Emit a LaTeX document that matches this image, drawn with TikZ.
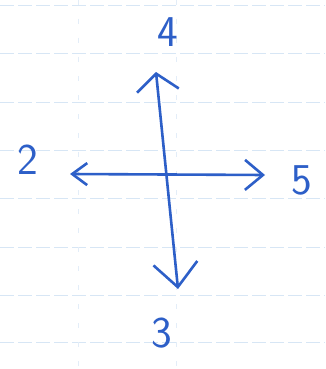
\documentclass[tikz,border=0pt]{standalone}
\usetikzlibrary{arrows.meta}
\definecolor{ink}{RGB}{45,95,200}
\definecolor{rule}{RGB}{215,230,245}
\begin{document}
\begin{tikzpicture}[x=1pt,y=-1pt,
  pen/.style={draw=ink,line width=2.6pt,line cap=round},
  lbl/.style={text=ink,font=\sffamily\fontsize{44}{44}\selectfont,inner sep=0pt},
  paperline/.style={draw=rule,line width=0.8pt,dashed,dash pattern=on 14pt off 4pt}]
\useasboundingbox[fill=white] (0,0) rectangle (325,369);
\foreach \y in {5,53,102,150,198,247,295,342}
  \draw[paperline] (0,\y) -- (325,\y);
\foreach \x in {78,176}
  \draw[rule!70!white,line width=0.5pt,dashed,dash pattern=on 5pt off 14pt] (\x,0) -- (\x,369);
\coordinate (up) at (156,72);
\coordinate (dn) at (178,289);
\coordinate (lt) at (70,174);
\coordinate (rt) at (265,175);
\draw[pen,{Straight Barb[length=17pt,width=42pt,line width=2.6pt]}-{Straight Barb[length=24pt,width=44pt,line width=2.6pt]}] (up) -- (dn);
\draw[pen,{Straight Barb[length=15pt,width=22pt,line width=2.6pt]}-{Straight Barb[length=18pt,width=30pt,line width=2.6pt]}] (lt) -- (rt);
\node[lbl] (n4) at (168,32) {4};
\node[lbl] (n2) at (28,160) {2};
\node[lbl] (n5) at (302,180) {5};
\node[lbl] (n3) at (162,333) {3};
\end{tikzpicture}
\end{document}
